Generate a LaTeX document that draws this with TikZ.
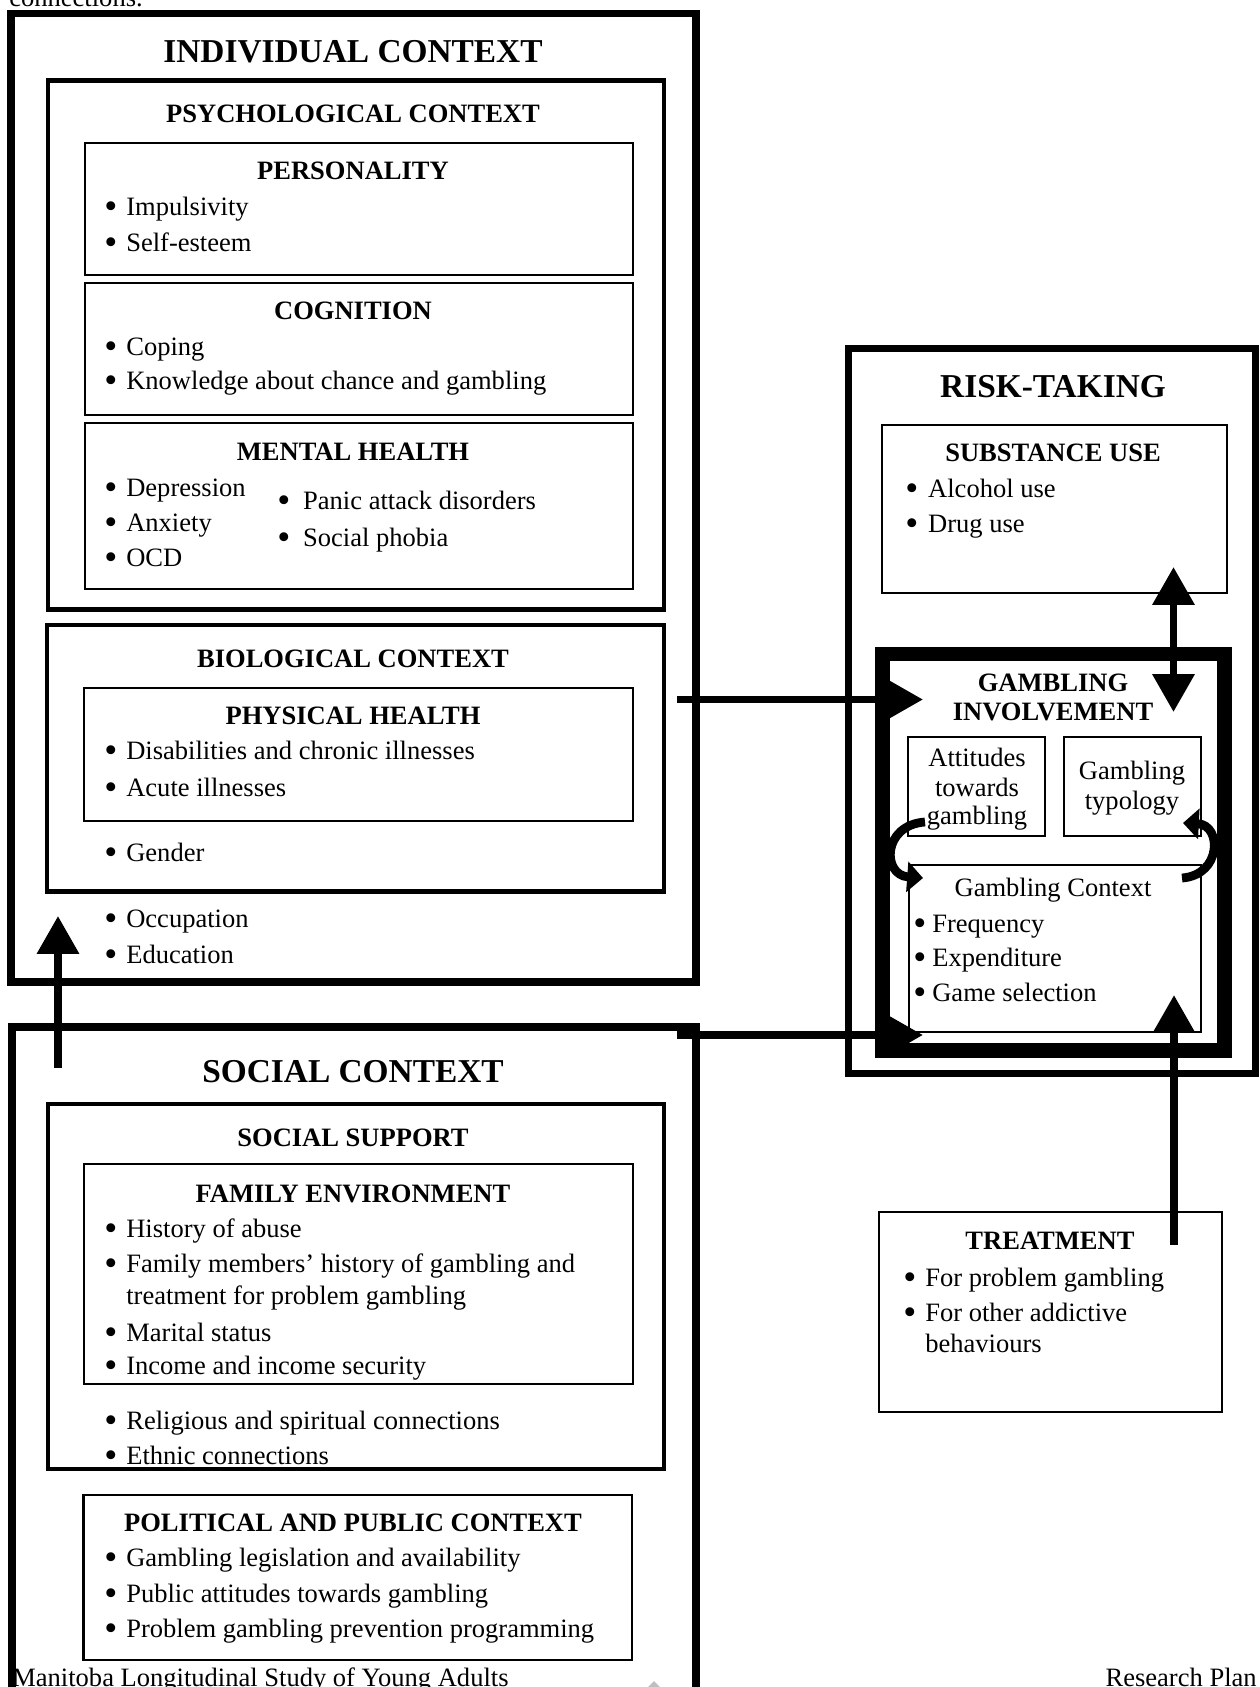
\documentclass[tikz,border=0pt]{standalone}
\usepackage{fontspec}
\setmainfont{Liberation Serif}
\usetikzlibrary{arrows.meta,fit}
\newcommand{\bul}[1][12.5pt]{\makebox[#1][l]{\raisebox{-0.13em}{\scalebox{1.4}{\textbullet}}}}
\begin{document}
\begin{tikzpicture}[x=0.02cm,y=-0.02cm,
  box/.style={draw,inner sep=0pt,line width=1.1pt},
  ctx/.style={box,line width=4.5pt},
  sub/.style={box,line width=2.8pt},
  inbox/.style={box,line width=1.4pt},
  gibox/.style={box,line width=8.5pt},
  txt/.style={anchor=base west,inner sep=0pt,font=\fontsize{15.1}{18}\selectfont},
  ctr/.style={anchor=base,inner sep=0pt,font=\fontsize{15.1}{18}\selectfont},
  hd/.style={ctr,font=\fontsize{15.1}{18}\selectfont\bfseries},
  bighd/.style={ctr,font=\fontsize{19}{22}\selectfont\bfseries},
  fat/.style={line width=4.5pt,-{Triangle[length=21.5pt,width=23pt]}},
  curvarr/.style={line width=5pt,-{Triangle[length=9pt,width=17pt]}}]

  \useasboundingbox (0,0) rectangle (1259,1687);

  \node[txt] (cut) at (9,6) {connections.};

  \node[ctx,fit={(11,13.5)(696,982)}] (indiv) {};
  \node[sub,fit={(48,80.5)(664,609.5)}] (psych) {};
  \node[inbox,fit={(85,143)(633,275)}] (pers) {};
  \node[inbox,fit={(85,283)(633,415)}] (cogn) {};
  \node[inbox,fit={(85,423)(633,589)}] (mental) {};
  \node[sub,fit={(47,625)(664,891.5)}] (bio) {};
  \node[inbox,fit={(84,688)(633,821)}] (phys) {};

  \node[ctx,fit={(12,1027)(696,1720)}] (social) {};
  \node[sub,fit={(48,1104)(664,1469)}] (support) {};
  \node[inbox,fit={(84,1164)(633,1384)}] (family) {};
  \node[inbox,fit={(83.5,1495)(632,1660)}] (polit) {};

  \node[box,line width=4pt,fit={(848.5,348.5)(1255,1073.5)}] (risk) {};
  \node[box,fit={(882,425)(1227,593)}] (subst) {};
  \node[gibox,fit={(882.5,654)(1224.5,1050.5)}] (gi) {};
  \node[box,fit={(908,737)(1045,836)}] (attit) {};
  \node[box,fit={(1064,737)(1201,836)}] (typol) {};
  \node[box,fit={(909,865)(1201,1032)}] (gcontext) {};
  \node[box,fit={(879,1212)(1222,1412)}] (treat) {};

  \node[bighd] (indivT) at (353,62.5) {INDIVIDUAL CONTEXT};
  \node[hd] (psychT) at (353,122) {PSYCHOLOGICAL CONTEXT};
  \node[hd] (persT) at (353,179) {PERSONALITY};
  \node[txt] (pers1) at (104,215) {\bul Impulsivity};
  \node[txt] (pers2) at (104,251) {\bul Self-esteem};
  \node[hd] (cognT) at (353,319) {COGNITION};
  \node[txt] (cogn1) at (104,355) {\bul Coping};
  \node[txt] (cogn2) at (104,389) {\bul Knowledge about chance and gambling};
  \node[hd] (mentalT) at (353,460) {MENTAL HEALTH};
  \node[txt] (ment1) at (104,496) {\bul Depression};
  \node[txt] (ment2) at (104,531) {\bul Anxiety};
  \node[txt] (ment3) at (104,566) {\bul OCD};
  \node[txt] (ment4) at (277,509) {\bul[14.7pt]Panic attack disorders};
  \node[txt] (ment5) at (277,546) {\bul[14.7pt]Social phobia};
  \node[hd] (bioT) at (353,667) {BIOLOGICAL CONTEXT};
  \node[hd] (physT) at (353,724) {PHYSICAL HEALTH};
  \node[txt] (phys1) at (104,759) {\bul Disabilities and chronic illnesses};
  \node[txt] (phys2) at (104,796) {\bul Acute illnesses};
  \node[txt] (bio1) at (104,861) {\bul Gender};
  \node[txt] (indiv1) at (104,927) {\bul Occupation};
  \node[txt] (indiv2) at (104,963) {\bul Education};

  \node[bighd] (socialT) at (353,1082.5) {SOCIAL CONTEXT};
  \node[hd] (supportT) at (353,1146) {SOCIAL SUPPORT};
  \node[hd] (familyT) at (353,1202) {FAMILY ENVIRONMENT};
  \node[txt] (fam1) at (104,1237) {\bul History of abuse};
  \node[txt] (fam2) at (104,1272) {\bul Family members’ history of gambling and};
  \node[txt] (fam2b) at (126,1304) {treatment for problem gambling};
  \node[txt] (fam3) at (104,1341) {\bul Marital status};
  \node[txt] (fam4) at (104,1374) {\bul Income and income security};
  \node[txt] (supp1) at (104,1429) {\bul Religious and spiritual connections};
  \node[txt] (supp2) at (104,1464) {\bul Ethnic connections};
  \node[hd] (politT) at (353,1531) {POLITICAL AND PUBLIC CONTEXT};
  \node[txt] (pol1) at (104,1566) {\bul Gambling legislation and availability};
  \node[txt] (pol2) at (104,1602) {\bul Public attitudes towards gambling};
  \node[txt] (pol3) at (104,1637) {\bul Problem gambling prevention programming};

  \node[bighd] (riskT) at (1053,397.5) {RISK-TAKING};
  \node[hd] (substT) at (1053,461) {SUBSTANCE USE};
  \node[txt] (subst1) at (905,497) {\bul[13pt]Alcohol use};
  \node[txt] (subst2) at (905,532) {\bul[13pt]Drug use};
  \node[hd] (giT1) at (1053,691.5) {GAMBLING};
  \node[hd] (giT2) at (1053,720.5) {INVOLVEMENT};
  \node[ctr] (att1) at (977,766) {Attitudes};
  \node[ctr] (att2) at (977,796) {towards};
  \node[ctr] (att3) at (977,824) {gambling};
  \node[ctr] (typ1) at (1132,779) {Gambling};
  \node[ctr] (typ2) at (1132,809) {typology};
  \node[ctr] (gcT) at (1053,896) {Gambling Context};
  \node[txt] (gc1) at (913,932) {\bul[10.8pt]Frequency};
  \node[txt] (gc2) at (913,966) {\bul[10.8pt]Expenditure};
  \node[txt] (gc3) at (913,1001) {\bul[10.8pt]Game selection};
  \node[hd] (treatT) at (1050,1249) {TREATMENT};
  \node[txt] (treat1) at (903,1286) {\bul For problem gambling};
  \node[txt] (treat2) at (903,1321) {\bul For other addictive};
  \node[txt] (treat2b) at (925,1352) {behaviours};

  \coordinate (bioout) at (677,699.5);
  \coordinate (giinA) at (923,699.5);
  \coordinate (socout) at (677,1035);
  \coordinate (giinB) at (923,1035);
  \coordinate (socup) at (58,1068);
  \coordinate (indivin) at (58,916);
  \coordinate (substin) at (1173.5,567);
  \coordinate (giinC) at (1173.5,712);
  \coordinate (treatout) at (1174,1245);
  \coordinate (gcin) at (1174,995);
  \coordinate (attout) at (925,822);
  \coordinate (gcinL) at (923,878);
  \coordinate (gcout) at (1182,878);
  \coordinate (typin) at (1183,823);

  \draw[fat] (bioout) -- (giinA);
  \draw[fat] (socout) -- (giinB);
  \draw[fat] (socup) -- (indivin);
  \draw[fat,{Triangle[length=21.5pt,width=23pt]}-{Triangle[length=21.5pt,width=23pt]}] (substin) -- (giinC);
  \draw[fat] (treatout) -- (gcin);
  \draw[curvarr] (attout) .. controls (882,825) and (882,875) .. (gcinL);
  \draw[curvarr] (gcout) .. controls (1222,875) and (1222,825) .. (typin);

  \node[txt] (footL) at (12,1686) {Manitoba Longitudinal Study of Young Adults};
  \node[txt,anchor=base east] (footR) at (1257,1686) {Research Plan};
  \fill[gray!50] (648,1687) -- (654,1681) -- (660,1687) -- cycle;
\end{tikzpicture}
\end{document}
